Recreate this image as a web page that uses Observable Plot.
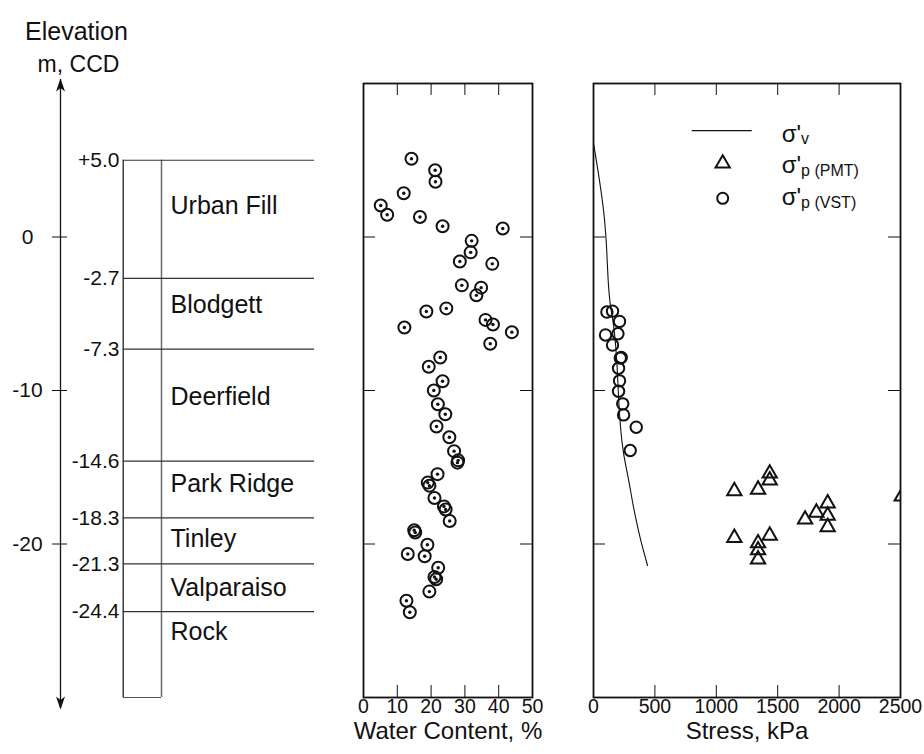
<!DOCTYPE html>
<html>
<head>
<meta charset="utf-8">
<script src="https://cdn.jsdelivr.net/npm/d3@7"></script>
<script src="https://cdn.jsdelivr.net/npm/@observablehq/plot@0.6"></script>
<style>
  body { margin: 0; background: #fff; font-family: "Liberation Sans", Arial, sans-serif; }
  #wrap { position: relative; width: 924px; height: 754px; overflow: hidden; background: #fff; }
  .panel { position: absolute; top: 0; }
  #legend { position: absolute; left: 0; top: 0; pointer-events: none; }
</style>
</head>
<body>
<div id="wrap">
  <div class="panel" id="p1" style="left:0px;width:340px;"></div>
  <div class="panel" id="p2" style="left:340px;width:220px;"></div>
  <div class="panel" id="p3" style="left:560px;width:364px;"></div>
</div>
<script>
// ---------------- DATA ----------------
const layerNames = ["Urban Fill", "Blodgett", "Deerfield", "Park Ridge", "Tinley", "Valparaiso", "Rock"];
const layerTops = [5.0, -2.7, -7.3, -14.6, -18.3, -21.3, -24.4];
const boundaryLabels = ["+5.0", "-2.7", "-7.3", "-14.6", "-18.3", "-21.3", "-24.4"];
const layerLabelElev = [2.0, -4.45, -10.4, -16.1, -19.65, -22.85, -25.75];
const columnBottom = -30;
const elevDomain = [-30, 10];
const elevTicks = [0, -10, -20];
const elevTickLabels = ["0", "-10", "-20"];

const wcTicks = [0, 10, 20, 30, 40, 50];
const stressTicks = [0, 500, 1000, 1500, 2000, 2500];

// water content (%) and elevation (m, CCD)
const wcValues = [14.2, 21.2, 21.3, 11.9, 5.1, 7.0, 16.7, 23.4, 41.2, 32.0, 31.7, 28.5, 38.1, 29.1, 34.8, 33.4,
  18.6, 24.5, 12.1, 36.1, 38.3, 43.9, 37.5, 22.7, 19.3, 23.4, 20.8, 22.0, 24.2, 21.6, 25.4, 26.8, 28.0, 27.8,
  21.9, 19.0, 19.5, 21.0, 23.8, 24.3, 25.5, 15.0, 15.3, 18.9, 13.1, 18.1, 22.1, 21.0, 21.5, 19.5, 12.7, 13.7];
const wcElev = [5.1, 4.35, 3.6, 2.85, 2.05, 1.45, 1.3, 0.7, 0.55, -0.25, -1.0, -1.6, -1.75, -3.15, -3.3, -3.8,
  -4.85, -4.65, -5.9, -5.4, -5.7, -6.2, -6.95, -7.85, -8.45, -9.4, -10.0, -10.9, -11.55, -12.35, -13.05, -13.95, -14.55, -14.7,
  -15.45, -16.0, -16.2, -17.0, -17.55, -17.75, -18.5, -19.1, -19.25, -20.05, -20.65, -20.8, -21.55, -22.15, -22.3, -23.1, -23.7, -24.45];

// vane shear test preconsolidation stress (kPa)
const vstStress = [109, 155, 212, 98, 199, 155, 218, 226, 204, 212, 204, 238, 245, 348, 299];
const vstElev = [-4.89, -4.83, -5.5, -6.38, -6.3, -7.04, -7.89, -7.85, -8.55, -9.37, -10.05, -10.87, -11.59, -12.39, -13.91];

// pressuremeter test preconsolidation stress (kPa)
const pmtStress = [1435, 1435, 1147, 1340, 2510, 1907, 1815, 1907, 1723, 1907, 1147, 1435, 1340, 1340, 1340];
const pmtElev = [-15.4, -15.85, -16.55, -16.45, -16.9, -17.35, -17.95, -18.15, -18.4, -18.9, -19.6, -19.45, -19.95, -20.4, -21.0];

// effective vertical stress profile (kPa)
const svStress = [0, 90, 101, 136, 158, 245, 290, 326, 380, 440];
const svElev = [6.1, 1.1, 0.0, -4.35, -5.45, -14.1, -16.0, -17.6, -19.6, -21.4];

// ---------------- TABLES ----------------
const layers = layerNames.map((name, i) => ({name, top: layerTops[i], label: boundaryLabels[i], labelElev: layerLabelElev[i]}));
const elevTickRows = elevTicks.map((v, i) => ({v, label: elevTickLabels[i]}));
const wcData = wcValues.map((wc, i) => ({wc, elev: wcElev[i]}));
const vstData = vstStress.map((s, i) => ({s, elev: vstElev[i]}));
const pmtData = pmtStress.map((s, i) => ({s, elev: pmtElev[i]}));
const svData = svStress.map((s, i) => ({s, elev: svElev[i]}));

// ---------------- STYLE / LAYOUT ----------------
const FONT = '"Liberation Sans", Arial, sans-serif';
const INK = "#111";
const H = 754, MT = 83, MB = 57;
const frameH = H - MT - MB;
const TICK = 12;
const baseStyle = {fontFamily: FONT, color: INK, background: "transparent", overflow: "visible"};

const arrowUp = {draw(ctx) { ctx.moveTo(0, 0); ctx.lineTo(-4.5, 13); ctx.lineTo(0, 9.5); ctx.lineTo(4.5, 13); ctx.closePath(); }};
const arrowDown = {draw(ctx) { ctx.moveTo(0, 0); ctx.lineTo(-4.5, -13); ctx.lineTo(0, -9.5); ctx.lineTo(4.5, -13); ctx.closePath(); }};

// ---------------- PANEL 1: soil column ----------------
const L = {arrowX: 60, tickX1: 52, tickX2: 67, elevLabelX: 27, colLeft: 122.7, colRight: 161, lineRight: 314, bLabelX: 119, nameX: 170, titleX: 76};
const p1 = Plot.plot({
  width: 340, height: H, marginLeft: 0, marginRight: 0, marginTop: MT, marginBottom: MB,
  x: {domain: [0, 340], axis: null},
  y: {domain: elevDomain, axis: null},
  style: baseStyle,
  marks: [
    Plot.ruleX([L.arrowX], {x: d => d, insetTop: -4, insetBottom: -11, stroke: INK, strokeWidth: 1.3}),
    Plot.dot([L.arrowX], {x: d => d, frameAnchor: "top", dy: -5, symbol: arrowUp, fill: INK, stroke: "none"}),
    Plot.dot([L.arrowX], {x: d => d, frameAnchor: "bottom", dy: 12, symbol: arrowDown, fill: INK, stroke: "none"}),
    Plot.ruleY(elevTickRows, {y: "v", x1: L.tickX1, x2: L.tickX2, stroke: INK, strokeWidth: 1}),
    Plot.text(elevTickRows, {y: "v", x: L.elevLabelX, text: "label", fontSize: 21, fill: INK}),
    Plot.ruleX([L.colLeft], {x: d => d, y1: layerTops[0], y2: columnBottom, stroke: INK, strokeWidth: 1.2}),
    Plot.ruleX([L.colRight], {x: d => d, y1: layerTops[0], y2: columnBottom, stroke: "#6a6a6a", strokeWidth: 1.5}),
    Plot.ruleY([columnBottom], {y: d => d, x1: L.colLeft, x2: L.colRight, stroke: "#555", strokeWidth: 1.2}),
    Plot.ruleY(layers, {y: "top", x1: L.colLeft, x2: L.lineRight, stroke: "#333", strokeWidth: 1.2}),
    Plot.text(layers, {y: "top", x: L.bLabelX, text: "label", textAnchor: "end", fontSize: 21, fill: INK}),
    Plot.text(layers, {y: "labelElev", x: L.nameX, text: "name", textAnchor: "start", fontSize: 25, fill: INK}),
    Plot.text(["Elevation"], {x: L.titleX, frameAnchor: "top", dy: -61, text: d => d, fontSize: 25, fill: INK}),
    Plot.text(["m, CCD"], {x: L.titleX + 2, frameAnchor: "top", dy: -28, text: d => d, fontSize: 23, fill: INK})
  ]
});
document.getElementById("p1").append(p1);

// ---------------- PANEL 2: water content ----------------
const p2W = 220, p2L = 23, p2R = 28, p2FW = p2W - p2L - p2R;
const p2 = Plot.plot({
  width: p2W, height: H, marginLeft: p2L, marginRight: p2R, marginTop: MT, marginBottom: MB,
  x: {domain: [0, 50], axis: null},
  y: {domain: elevDomain, axis: null},
  style: baseStyle,
  marks: [
    Plot.tickX(wcTicks.slice(1, -1), {x: d => d, insetTop: frameH - TICK, stroke: INK}),
    Plot.tickX(wcTicks.slice(1, -1), {x: d => d, insetBottom: frameH - TICK, stroke: INK}),
    Plot.tickY(elevTicks, {y: d => d, insetRight: p2FW - TICK, stroke: INK}),
    Plot.tickY(elevTicks, {y: d => d, insetLeft: p2FW - TICK, stroke: INK}),
    Plot.dot(wcData, {x: "wc", y: "elev", r: 6, stroke: INK, strokeWidth: 2, fill: "none"}),
    Plot.dot(wcData, {x: "wc", y: "elev", r: 1.7, fill: INK, stroke: "none"}),
    Plot.frame({stroke: INK, strokeWidth: 1.8}),
    Plot.text(wcTicks, {x: d => d, frameAnchor: "bottom", dy: 15, text: d => String(d), fontSize: 19.5, fill: INK}),
    Plot.text(["Water Content, %"], {frameAnchor: "bottom", dy: 41, text: d => d, fontSize: 24, fill: INK})
  ]
});
document.getElementById("p2").append(p2);

// ---------------- PANEL 3: stress ----------------
const p3W = 364, p3L = 33, p3R = 24, p3FW = p3W - p3L - p3R;
const p3 = Plot.plot({
  width: p3W, height: H, marginLeft: p3L, marginRight: p3R, marginTop: MT, marginBottom: MB,
  x: {domain: [0, 2500], axis: null},
  y: {domain: elevDomain, axis: null},
  style: baseStyle,
  marks: [
    Plot.tickX(stressTicks.slice(1, -1), {x: d => d, insetTop: frameH - TICK, stroke: INK}),
    Plot.tickX(stressTicks.slice(1, -1), {x: d => d, insetBottom: frameH - TICK, stroke: INK}),
    Plot.tickY(elevTicks, {y: d => d, insetRight: p3FW - TICK, stroke: INK}),
    Plot.tickY(elevTicks, {y: d => d, insetLeft: p3FW - TICK, stroke: INK}),
    Plot.line(svData, {x: "s", y: "elev", stroke: INK, strokeWidth: 1.1, curve: "monotone-y"}),
    Plot.dot(vstData, {x: "s", y: "elev", r: 5.7, stroke: INK, strokeWidth: 2, fill: "none"}),
    Plot.dot(pmtData, {x: "s", y: "elev", r: 5.3, symbol: "triangle", stroke: INK, strokeWidth: 2, fill: "none", clip: true}),
    Plot.frame({stroke: INK, strokeWidth: 1.8}),
    Plot.text(stressTicks, {x: d => d, frameAnchor: "bottom", dy: 15, text: d => String(d), fontSize: 19.5, fill: INK}),
    Plot.text(["Stress, kPa"], {frameAnchor: "bottom", dy: 41, text: d => d, fontSize: 24, fill: INK})
  ]
});
document.getElementById("p3").append(p3);

// ---------------- LEGEND ----------------
const ns = "http://www.w3.org/2000/svg";
const leg = document.createElementNS(ns, "svg");
leg.setAttribute("id", "legend");
leg.setAttribute("width", 924);
leg.setAttribute("height", 754);
leg.setAttribute("font-family", FONT);
const triPath = d3.symbol(d3.symbolTriangle, Math.PI * 5.3 * 5.3)();
leg.innerHTML = `
  <line x1="691.7" x2="751.7" y1="130.7" y2="130.7" stroke="${INK}" stroke-width="1.2"/>
  <path d="${triPath}" transform="translate(722.7,163.5)" fill="none" stroke="${INK}" stroke-width="2"/>
  <circle cx="722.7" cy="198.3" r="5.5" fill="none" stroke="${INK}" stroke-width="2"/>
  <text x="781.7" y="141.7" font-size="24" fill="${INK}">σ'<tspan font-size="16" dy="2">v</tspan></text>
  <text x="781.7" y="173.3" font-size="24" fill="${INK}">σ'<tspan font-size="16" dy="3">p (PMT)</tspan></text>
  <text x="781.7" y="205" font-size="24" fill="${INK}">σ'<tspan font-size="16" dy="3">p (VST)</tspan></text>
`;
document.getElementById("wrap").append(leg);
</script>
</body>
</html>
